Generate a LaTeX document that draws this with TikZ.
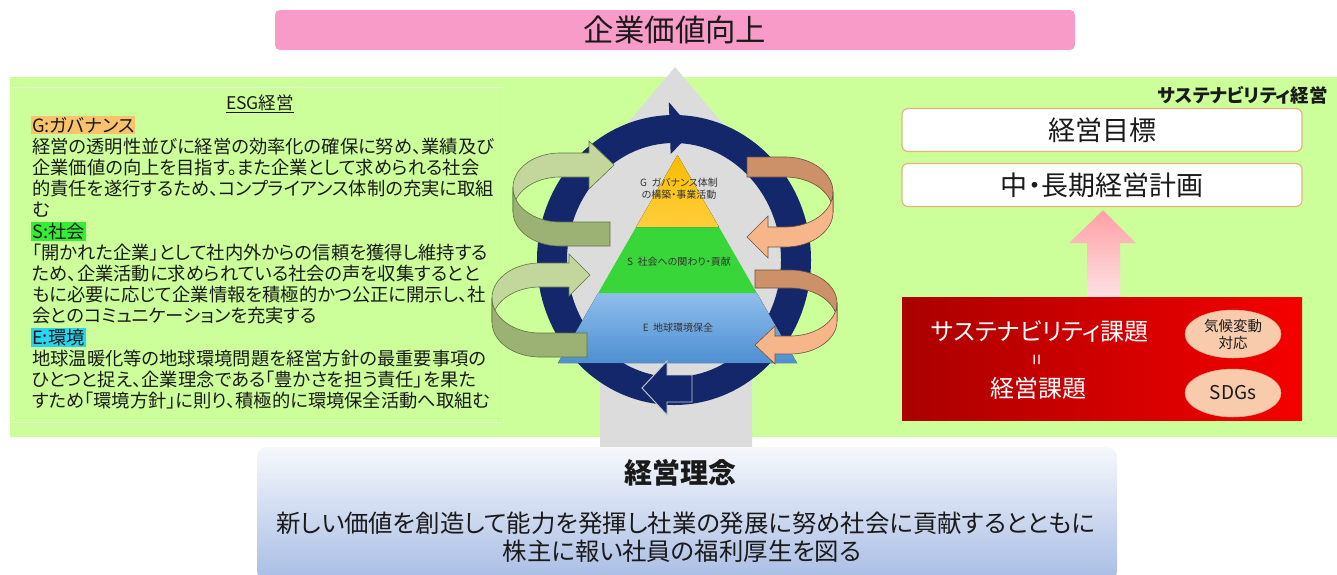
\documentclass[tikz,border=0pt]{standalone}
\usepackage{fontspec}
\setmainfont{Noto Sans CJK JP}[RawFeature=+palt]
\usetikzlibrary{calc,shapes.geometric}
\definecolor{bggreen}{HTML}{CCFF99}
\definecolor{boxline}{HTML}{E6F7D2}
\definecolor{arrgray}{HTML}{DCDCDC}
\definecolor{ringnavy}{HTML}{14276B}
\definecolor{pinkbar}{HTML}{F99BC8}
\definecolor{textc}{HTML}{1A1A1A}
\definecolor{pyrtext}{HTML}{333333}
\definecolor{hG}{HTML}{F8C36C}
\definecolor{hS}{HTML}{33EE33}
\definecolor{hE}{HTML}{29D4F0}
\definecolor{boxedge}{HTML}{E8B27C}
\definecolor{lgreenA}{HTML}{C3D69B}
\definecolor{dgreenA}{HTML}{9BB274}
\definecolor{greenline}{HTML}{5E7444}
\definecolor{peachA}{HTML}{F7B68A}
\definecolor{brownA}{HTML}{CC9168}
\definecolor{brownline}{HTML}{6E5040}
\definecolor{ellfill}{HTML}{F8CBAD}
\definecolor{ellline}{HTML}{EAB08A}
\definecolor{blueTop}{HTML}{8FBEEB}
\definecolor{blueBot}{HTML}{4E8FD2}
\definecolor{pyrGreen}{HTML}{38D638}
\definecolor{yelTop}{HTML}{FABC00}
\definecolor{yelBot}{HTML}{FFCE3C}
\definecolor{redL}{HTML}{AA0000}
\definecolor{redR}{HTML}{F50000}
\definecolor{pinkTop}{HTML}{FFA0A5}
\definecolor{pinkBot}{HTML}{FDE1E4}
\definecolor{philTop}{HTML}{F6F8FC}
\definecolor{philBot}{HTML}{A8BCE4}
\definecolor{arrowedge}{HTML}{C8CCD8}
\newcommand\arrrot{0}
\newcommand\arrhead{lgreenA}
\newcommand\arrtail{dgreenA}
\newcommand\arrline{greenline}
\newcommand\cvarrow[9]{%
 \begin{scope}[shift={(#1,#2)},rotate=\arrrot]
 \def\drawhead{\filldraw[fill=\arrhead,draw=\arrline,line width=0.6pt] ({#7},{-#4-#5}) -- (0,{-#4-#5}) -- plot[domain=270:180,samples=40] ({#3*cos(\x)},{#4*sin(\x)-#5}) -- plot[domain=180:270,samples=40] ({#3*cos(\x)},{#4*sin(\x)+#5}) -- ({#7},{-#4+#5}) -- ({#7},{-#4+#9}) -- ({#8},{-#4}) -- ({#7},{-#4-#9}) -- cycle;}%
 \def\drawtail{\filldraw[fill=\arrtail,draw=\arrline,line width=0.6pt] ({-#3},{-#5}) -- plot[domain=180:90,samples=40] ({#3*cos(\x)},{#4*sin(\x)-#5}) -- ({#6},{#4-#5}) -- ({#6},{#4+#5}) -- (0,{#4+#5}) -- plot[domain=90:180,samples=40] ({#3*cos(\x)},{#4*sin(\x)+#5}) -- cycle;}%
 \ifnum\arrrot=0 \drawhead\drawtail\else\drawtail\drawhead\fi
 \end{scope}}
\begin{document}
\begin{tikzpicture}[x=1pt,y=-1pt,
  txt/.style={inner sep=0pt,text=textc},
  body/.style={txt,anchor=west,font=\fontsize{18.3}{20}\selectfont},
  hdr/.style={body,inner sep=1pt},
  pyr/.style={inner sep=0pt,text=pyrtext,align=center,font=\fontsize{10}{12}\selectfont},
  whitebox/.style={draw=boxedge,line width=1.2pt,fill=white,rounded corners=6pt,minimum width=400pt,minimum height=43pt,inner sep=0pt,text=textc,font=\fontsize{27}{30}\selectfont},
  ell/.style={ellipse,fill=ellfill,draw=ellline,line width=0.5pt,minimum width=96pt,minimum height=48pt,inner sep=0pt,text=textc,align=center},
  wtxt/.style={inner sep=0pt,text=white,font=\fontsize{24}{28}\selectfont}]
\useasboundingbox (0,0) rectangle (1337,574);
\fill[white] (0,0) rectangle (1337,574);
% top bar
\node[fill=pinkbar,rounded corners=5pt,minimum width=800pt,minimum height=40pt,inner sep=0pt,text=textc,font=\fontsize{30.4}{34}\selectfont] (top) at (675,30) {企業価値向上};
% green background
\fill[bggreen] (10,77) rectangle (1337,437);
\draw[boxline,line width=1pt] (13,87) rectangle (503,422);
% big gray arrow
\fill[arrgray] (675,67) -- (804,220) -- (752,220) -- (752,447) -- (600,447) -- (600,220) -- (546,220) -- cycle;
\fill[arrgray] (674,260) ellipse [x radius=110pt, y radius=120pt];
% navy ring
\fill[ringnavy,even odd rule] (674,260) ellipse [x radius=137pt, y radius=145pt] (674,260) ellipse [x radius=107pt, y radius=117pt];
\fill[ringnavy] ({674+148*cos(268)},{260+158*sin(268)}) -- ({674+122*cos(279)},{260+131*sin(279)}) -- ({674+96*cos(268)},{260+106*sin(268)}) -- cycle;
% pyramid
\fill[top color=blueTop, bottom color=blueBot] (598.2,293) -- (756.8,293) -- (797,363) -- (558,363) -- cycle;
\fill[pyrGreen] (636.1,227) -- (718.9,227) -- (756.8,293) -- (598.2,293) -- cycle;
\fill[top color=yelTop, bottom color=yelBot] (677.5,155) -- (718.9,227) -- (636.1,227) -- cycle;
\node[pyr] (pG) at (679,189) {G\ \ ガバナンス体制\\の構築・事業活動};
\node[pyr] (pS) at (679,262) {S\ \ 社会への関わり・貢献};
\node[pyr] (pE) at (678,328) {E\ \ 地球環境保全};
% bottom arrowhead of the ring
\filldraw[fill=ringnavy,draw=arrowedge,line width=0.9pt] (692,375) -- (667,375) -- (667,361) -- (642,388) -- (667,415) -- (667,402) -- (692,402) -- cycle;
% curved arrows
\renewcommand\arrrot{0}\renewcommand\arrhead{lgreenA}\renewcommand\arrtail{dgreenA}\renewcommand\arrline{greenline}
\cvarrow{560}{199.5}{47}{34.5}{12}{50}{29}{54}{24}
\cvarrow{540}{310}{48}{35}{12}{47}{29}{50}{21}
\renewcommand\arrrot{180}\renewcommand\arrhead{peachA}\renewcommand\arrtail{brownA}\renewcommand\arrline{brownline}
\cvarrow{785}{202}{48}{35}{10}{38}{17}{38}{21}
\cvarrow{790}{312}{47}{33}{9}{35}{15}{35}{19}
% left text
\node[txt,font=\fontsize{17.5}{20}\selectfont] (esg) at (260,104) {\underline{ESG経営}};
\node[hdr,fill=hG] (hg) at (31,125.2) {G:ガバナンス};
\node[body] (g1) at (32,146.4) {経営の透明性並びに経営の効率化の確保に努め、業績及び};
\node[body] (g2) at (32,167.6) {企業価値の向上を目指す。また企業として求められる社会};
\node[body] (g3) at (32,188.8) {的責任を遂行するため、コンプライアンス体制の充実に取組};
\node[body] (g4) at (32,210) {む};
\node[hdr,fill=hS] (hs) at (31,231.2) {S:社会};
\node[body] (s1) at (32,252.4) {「開かれた企業」として社内外からの信頼を獲得し維持する};
\node[body] (s2) at (32,273.6) {ため、企業活動に求められている社会の声を収集するとと};
\node[body] (s3) at (32,294.8) {もに必要に応じて企業情報を積極的かつ公正に開示し、社};
\node[body] (s4) at (32,316) {会とのコミュニケーションを充実する};
\node[hdr,fill=hE] (he) at (31,337.2) {E:環境};
\node[body] (e1) at (32,358.4) {地球温暖化等の地球環境問題を経営方針の最重要事項の};
\node[body] (e2) at (32,379.6) {ひとつと捉え、企業理念である「豊かさを担う責任」を果た};
\node[body] (e3) at (32,400.8) {すため「環境方針」に則り、積極的に環境保全活動へ取組む};
% right panel
\node[txt,anchor=east,font=\bfseries\fontsize{18.5}{22}\selectfont] (sm) at (1328,95) {サステナビリティ経営};
\node[whitebox] (goal) at (1102,130) {経営目標};
\node[whitebox] (plan) at (1102,185) {中・長期経営計画};
\node[minimum width=400pt,minimum height=123pt,inner sep=0pt,left color=redL,right color=redR] (issue) at (1102,358.5) {};
\shade[top color=pinkTop, bottom color=pinkBot] ($(plan.south)+(1,3)$) -- ($(plan.south)+(34,36)$) -- ($(plan.south)+(18,36)$) -- ($(issue.north)+(18,0)$) -- ($(issue.north)+(-15,0)$) -- ($(plan.south)+(-15,36)$) -- ($(plan.south)+(-33,36)$) -- cycle;
\node[wtxt] (i1) at (1040,332) {サステナビリティ課題};
\node[wtxt,rotate=90,font=\fontsize{20}{20}\selectfont] (i2) at (1039,360) {=};
\node[wtxt] (i3) at (1038,388) {経営課題};
\node[ell,font=\fontsize{14.5}{17}\selectfont] (clim) at (1233,334) {気候変動\\対応};
\node[ell,font=\fontsize{19}{22}\selectfont] (sdg) at (1233,393) {SDGs};
% bottom box
\node[rounded corners=10pt,minimum width=860pt,minimum height=134pt,inner sep=0pt,top color=philTop,bottom color=philBot] (phil) at (687,514) {};
\node[txt,font=\bfseries\fontsize{28}{32}\selectfont] (pt) at (680,473) {経営理念};
\node[txt,font=\fontsize{24.4}{28}\selectfont] (p1) at (686,523) {新しい価値を創造して能力を発揮し社業の発展に努め社会に貢献するとともに};
\node[txt,font=\fontsize{24.4}{28}\selectfont] (p2) at (682,551) {株主に報い社員の福利厚生を図る};
\end{tikzpicture}
\end{document}
